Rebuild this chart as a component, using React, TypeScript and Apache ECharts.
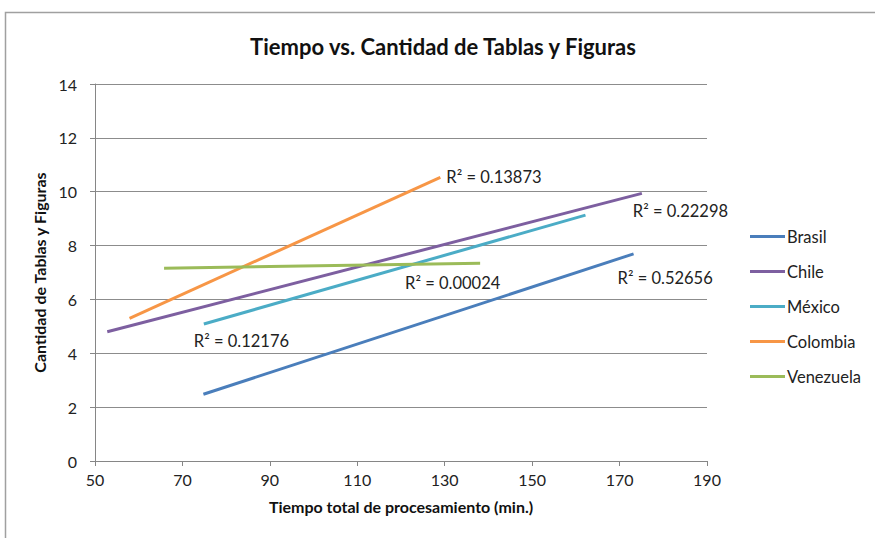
import React, { useEffect, useRef } from "react";
import * as echarts from "echarts";

const countries = ["Brasil", "Chile", "México", "Colombia", "Venezuela"];
const xStart = [74.8, 52.8, 74.9, 57.9, 65.8];
const yStart = [2.48, 4.8, 5.09, 5.3, 7.16];
const xEnd = [173.2, 175.1, 162.2, 129.0, 138.1];
const yEnd = [7.69, 9.94, 9.13, 10.53, 7.34];
const r2Values = ["0.52656", "0.22298", "0.12176", "0.13873", "0.00024"];
const colors = ["#4a7ebb", "#7d5fa0", "#4bacc6", "#f79646", "#9bbb59"];
const xTicks = [50, 70, 90, 110, 130, 150, 170, 190];

// label placement: which end (0 start, 1 end) and pixel offset of the label's left-middle
const labelEnd = [1, 1, 0, 1, 1];
const labelOffset: [number, number][] = [
  [-16, 24],
  [-9, 18],
  [-10, 17],
  [6, 0],
  [-75, 20],
];

const FONT = "Lato";

export default function App() {
  const ref = useRef<HTMLDivElement>(null);
  useEffect(() => {
    document.body.style.margin = "0";
    const chart = echarts.init(ref.current!, null, { renderer: "svg" });
    const series = countries.map((name, i) => {
      const pts = [
        [xStart[i], yStart[i]],
        [xEnd[i], yEnd[i]],
      ];
      return {
        name,
        type: "line",
        showSymbol: true,
        symbolSize: 0,
        color: colors[i],
        lineStyle: { color: colors[i], width: 3 },
        itemStyle: { color: colors[i] },
        emphasis: { disabled: true },
        data: pts.map((p, k) => ({
          value: p,
          label:
            k === labelEnd[i]
              ? {
                  show: true,
                  position: "inside",
                  align: "left",
                  verticalAlign: "middle",
                  offset: labelOffset[i],
                  formatter: "R² = " + r2Values[i],
                  color: "#222",
                  fontFamily: FONT,
                  fontSize: 16.5,
                }
              : { show: false },
        })),
      };
    });
    chart.setOption({
      animation: false,
      backgroundColor: "#fff",
      title: {
        text: "Tiempo vs. Cantidad de Tablas y Figuras",
        left: 438,
        textAlign: "center",
        top: 30,
        textStyle: { fontFamily: FONT, fontWeight: "bold", fontSize: 22, color: "#111" },
      },
      graphic: [
        {
          type: "rect",
          shape: { x: 5.5, y: 12.5, width: 900, height: 600 },
          style: { fill: "none", stroke: "#a0a0a0", lineWidth: 1.5 },
          silent: true,
        },
      ],
      legend: {
        orient: "vertical",
        left: 745,
        top: 223,
        icon: "rect",
        itemWidth: 35,
        itemHeight: 3,
        itemGap: 18,
        data: countries,
        textStyle: { fontFamily: FONT, fontSize: 16.5, color: "#222", padding: [0, 0, 0, -3] },
      },
      grid: { left: 95, right: 168, top: 84, bottom: 77, containLabel: false },
      xAxis: {
        type: "value",
        min: 50,
        max: 190,
        interval: 20,
        name: "Tiempo total de procesamiento (min.)",
        nameLocation: "middle",
        nameGap: 37,
        nameTextStyle: { fontFamily: FONT, fontWeight: "bold", fontSize: 16, color: "#111" },
        axisLine: { show: true, lineStyle: { color: "#868686" } },
        axisTick: { show: true, length: 5, lineStyle: { color: "#868686" } },
        splitLine: { show: false },
        axisLabel: {
          fontFamily: FONT,
          fontSize: 16,
          color: "#222",
          margin: 10,
          customValues: xTicks,
        },
      },
      yAxis: {
        type: "value",
        min: 0,
        max: 14,
        interval: 2,
        name: "Cantidad de Tablas y Figuras",
        nameLocation: "middle",
        nameGap: 35,
        nameTextStyle: { fontFamily: FONT, fontWeight: "bold", fontSize: 16, color: "#111" },
        axisLine: { show: true, lineStyle: { color: "#868686" } },
        axisTick: { show: true, length: 5, lineStyle: { color: "#868686" } },
        splitLine: { show: true, lineStyle: { color: "#8c8c8c", width: 1 } },
        axisLabel: { fontFamily: FONT, fontSize: 16, color: "#222", margin: 18 },
      },
      series,
    });
    return () => chart.dispose();
  }, []);
  return (
    <div
      ref={ref}
      style={{ position: "absolute", left: 0, top: 0, width: 875, height: 538 }}
    />
  );
}
